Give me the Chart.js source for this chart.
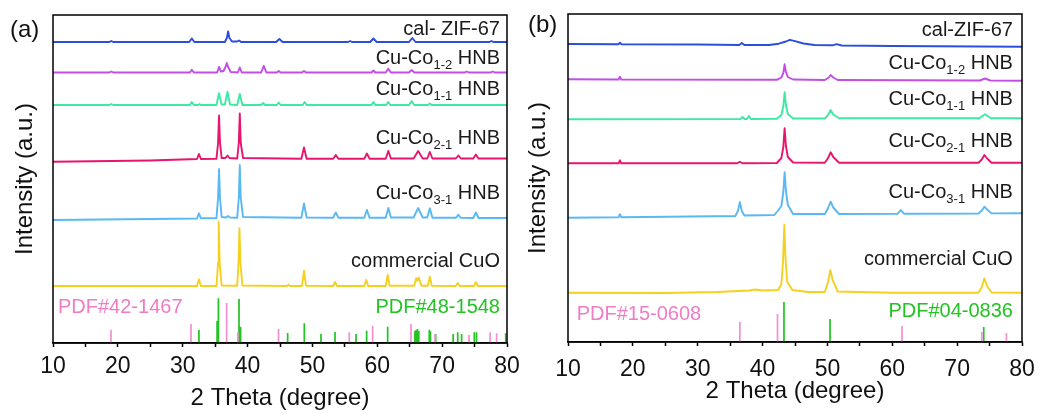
<!DOCTYPE html>
<html>
<head>
<meta charset="utf-8">
<script src="https://cdn.jsdelivr.net/npm/chart.js@4.4.1/dist/chart.umd.min.js"></script>
<style>
  html, body { margin: 0; padding: 0; background: #fff; }
  #wrap { position: relative; width: 1040px; height: 414px; }
  #chartA { position: absolute; left: 0; top: 0; }
  #chartB { position: absolute; left: 520px; top: 0; }
</style>
</head>
<body>
<div id="wrap">
  <canvas id="chartA" width="520" height="414"></canvas>
  <canvas id="chartB" width="520" height="414"></canvas>
</div>
<script>
// ---- panel (a): XRD traces, [2theta, offset intensity] ----
var zifA = [[10,301],[18.7,301],[19,302],[19.3,301],[31.0,301],[31.4,304.5],[31.8,301],[36.5,301],[36.8,305],[37.0,311.5],[37.2,305],[37.6,301.5],[38.4,301.5],[38.7,302.5],[39,301],[44.4,301],[44.9,304],[45.4,301],[55.5,301],[55.8,302],[56.1,301],[58.9,301],[59.4,304.5],[59.9,301],[64.9,301],[65.4,305],[65.9,301],[77.3,301],[77.6,302],[77.9,301],[80,301]];
var co12A = [[10,270.5],[18.7,270.5],[19,271.5],[19.3,270.5],[31.1,270.5],[31.4,273.2],[31.7,270.5],[35.3,270.5],[35.6,276],[35.9,271.5],[36.3,272],[36.6,276],[36.8,280],[37.0,276],[37.4,271],[38.5,270.5],[38.8,275.5],[39.1,270.5],[42.1,270.5],[42.5,277.2],[42.9,270.5],[44.5,270.5],[44.8,272],[45.1,270.5],[48.4,270.5],[48.7,272],[49,270.5],[59.1,270.5],[59.4,272.5],[59.7,270.5],[61.3,270.5],[61.7,274.2],[62.1,270.5],[64.9,270.5],[65.3,273],[65.7,270.5],[73.5,270.5],[73.8,271.5],[74.1,270.5],[77.5,270.5],[77.8,271.5],[78.1,270.5],[80,270.5]];
var co11A = [[10,238],[18.7,238],[19,239],[19.3,238],[31.1,238],[31.4,241],[31.7,238],[32.4,238],[32.6,239],[32.8,238],[35.2,238],[35.6,249.7],[36.0,238.5],[36.5,238.5],[36.9,251.3],[37.3,238.5],[38.4,238],[38.8,249],[39.2,238],[42.1,238],[42.4,240],[42.7,238],[44.5,238],[44.8,240.5],[45.1,238],[48.5,238],[48.8,241],[49.1,238],[59.1,238],[59.4,241],[59.7,238],[61.4,238],[61.7,241],[62.0,238],[64.9,238],[65.3,242],[65.7,238],[67.8,238],[68.1,239.5],[68.4,238],[80,238]];
var co21A = [[10,181.3],[25,182.5],[32.2,184],[32.5,189],[32.8,184],[35.2,184.2],[35.45,200],[35.6,227.5],[35.75,200],[36.0,185],[36.6,185],[36.9,187.5],[37.2,185],[38.4,184.5],[38.65,200],[38.8,229.5],[38.95,200],[39.3,185],[48.3,184.3],[48.7,195.5],[49.1,184.3],[53.2,184.3],[53.6,188],[54.0,184.3],[58.0,184.3],[58.4,189.5],[58.8,184.3],[61.3,184.3],[61.7,192],[62.1,184.5],[65.6,184.5],[66.3,192],[67.0,184.5],[67.7,184.5],[68.1,191],[68.5,184.5],[72.1,184.5],[72.5,187.5],[72.9,184.5],[74.8,184.5],[75.2,188.5],[75.6,184.5],[80,184.5]];
var co31A = [[10,123],[25,124],[32.2,124.5],[32.5,129.7],[32.8,124.7],[35.2,125],[35.45,145],[35.6,174],[35.75,145],[36.0,126],[36.7,125.5],[37.0,127],[37.3,125.5],[38.4,125.3],[38.65,145],[38.8,178],[38.95,145],[39.3,126],[48.3,125.3],[48.7,139.5],[49.1,125.5],[53.2,125.3],[53.6,130.5],[54.0,125.3],[58.0,125.3],[58.4,133],[58.8,125.3],[61.3,125.3],[61.7,135],[62.1,125.5],[65.6,125.5],[66.3,135],[67.0,125.5],[67.7,125.5],[68.1,134.7],[68.5,125.3],[72.1,125.2],[72.5,128.2],[72.9,125.2],[74.8,125],[75.2,130.5],[75.6,125],[80,125]];
var cuoA = [[10,57],[32.2,57],[32.5,63.7],[32.8,57],[35.2,57],[35.45,80],[35.55,121.3],[35.7,80],[36.0,57.5],[38.4,57.3],[38.6,80],[38.75,114.7],[38.9,80],[39.2,57.5],[46.1,57],[46.3,58.5],[46.5,57],[48.4,57],[48.7,72.3],[49.0,57.3],[53.2,57],[53.5,61],[53.8,57],[58.0,57],[58.3,63],[58.6,57],[61.3,57],[61.6,68],[61.9,57.3],[65.7,57.3],[66.0,64.7],[66.2,62.5],[66.4,65.5],[66.8,57.3],[67.8,57.3],[68.1,66.3],[68.4,57.3],[72.1,57],[72.4,60],[72.7,57],[74.9,57],[75.2,61],[75.5,57],[80,57]];

// reference patterns (a)
var pdf421467Pos = [18.94, 31.28, 36.77, 38.5, 44.77, 55.68, 59.29, 65.2, 68.9, 74.14, 77.4, 78.4];
var pdf421467Hgt = [13.3, 19, 40, 10.7, 14, 10.7, 17.3, 19, 9, 8, 10.7, 9.7];
var pdf481548Pos = [32.5, 35.3, 35.5, 38.68, 38.93, 46.18, 48.75, 51.32, 53.48, 56.72, 58.36, 61.6, 65.8, 66.0, 66.2, 66.4, 68.02, 68.2, 69.0, 71.7, 72.4, 73.0, 74.96, 75.3, 79.8];
var pdf481548Hgt = [13.3, 22, 44.7, 44, 16, 10, 19.7, 9, 11, 9, 12.3, 16.3, 12, 13, 14, 12, 13.3, 11.7, 9, 9, 10.7, 9, 10.7, 10.7, 9.7];

// ---- panel (b) ----
var zifB = [[10,298],[17.8,297.8],[18.0,299.3],[18.2,297.8],[30,297.5],[36.4,297],[36.8,299],[37.2,297],[41.0,297],[42.5,298.3],[43.6,300.5],[44.2,302.2],[45,300.8],[46.3,298.5],[48,297],[50.8,296.7],[51.4,297.8],[52.2,296.5],[60,296],[80,295.3]];
var co12B = [[10,262.7],[17.8,262.5],[18.0,265.3],[18.2,262.5],[42.2,262.2],[42.9,264.5],[43.2,269],[43.4,277.7],[43.6,270],[43.9,265],[44.7,262.5],[49.6,262],[50.2,264.5],[50.5,267],[50.9,264.5],[51.6,262],[73.5,261.5],[74.3,263.5],[75.1,261.5],[80,261.3]];
var co11B = [[10,222.7],[36.6,223],[36.9,225],[37.2,223],[37.6,223],[37.9,226],[38.2,223],[42.2,223.2],[42.9,227],[43.2,236],[43.4,249.7],[43.6,237],[43.9,228],[44.7,223.5],[49.6,223.5],[50.1,227],[50.5,232],[50.9,227.5],[51.8,223.7],[73.4,223.7],[74.3,227.7],[75.2,223.7],[80,223.7]];
var co21B = [[10,178.7],[17.8,178.7],[18.0,181.7],[18.2,178.7],[36.1,178.8],[36.5,180.3],[36.9,178.8],[42.2,179],[42.9,184],[43.2,195],[43.4,213.7],[43.6,196],[43.9,185],[44.7,179.5],[49.6,179.3],[50.1,184],[50.5,189.7],[50.9,185],[51.8,179.3],[73.3,179.3],[73.8,182.5],[74.2,187],[74.7,183],[75.3,179.3],[80,179.3]];
var co31B = [[10,124.3],[17.8,124.8],[18.0,127.8],[18.2,124.8],[35.8,126],[36.2,131],[36.5,139.7],[36.8,131],[37.2,126.5],[41.8,127],[42.4,131.5],[42.9,136],[43.2,150],[43.4,169.7],[43.6,151],[43.9,137],[44.7,128],[49.6,128],[50.1,134],[50.5,140.3],[50.9,134.5],[51.8,128],[60.8,128.2],[61.3,132],[61.8,128.3],[73.3,128.5],[73.8,131.5],[74.2,135.3],[74.7,132],[75.3,128.6],[80,128.7]];
var cuoB = [[10,49.3],[25,49],[33,50],[38,51.5],[38.8,52.5],[40,51.5],[42.4,52],[42.9,58],[43.15,80],[43.35,117],[43.55,82],[43.8,60],[44.6,52],[47,50],[49.6,50],[50.1,60],[50.45,72],[50.8,62],[51.6,50.5],[60,49.3],[73.3,49.3],[73.8,55],[74.2,63.7],[74.6,56],[75.3,49.5],[80,49.3]];

var pdf150608Pos = [36.5, 42.3, 61.5, 73.8, 77.6];
var pdf150608Hgt = [20, 28, 16, 10, 9];
var pdf040836Pos = [43.3, 50.4, 74.1];
var pdf040836Hgt = [40, 23, 15];

var xTicks = [10, 20, 30, 40, 50, 60, 70, 80];

var FONT = '"Liberation Sans", Arial, sans-serif';
Chart.defaults.font.family = FONT;
Chart.defaults.color = '#111';

function pts(arr) {
  return arr.map(function(p){ return {x: p[0], y: p[1]}; });
}

function sticks(pos, hgt) {
  var out = [];
  for (var i = 0; i < pos.length; i++) {
    out.push({x: pos[i], y: 0}, {x: pos[i], y: hgt[i]}, {x: pos[i], y: null});
  }
  return out;
}

function trace(data, color) {
  return { data: pts(data), borderColor: color, borderWidth: 1.9, pointRadius: 0, tension: 0, borderJoinStyle: 'round' };
}

function stickSet(data, color) {
  return { data: data, borderColor: color, borderWidth: 1.7, pointRadius: 0, spanGaps: false };
}

// frame, panel tag and curve labels
var decor = {
  id: 'decor',
  afterDatasetsDraw: function(chart, args, opts) {
    var ctx = chart.ctx, a = chart.chartArea;
    var xs = chart.scales.x, ys = chart.scales.y;
    ctx.save();
    ctx.lineWidth = 1.5;
    ctx.strokeStyle = '#000';
    ctx.strokeRect(a.left, a.top, a.right - a.left, a.bottom - a.top);
    ctx.fillStyle = '#111';
    ctx.textBaseline = 'alphabetic';
    ctx.textAlign = 'left';
    ctx.font = '24px ' + FONT;
    ctx.fillText(opts.tag, opts.tagX, opts.tagY);
    opts.labels.forEach(function(l){
      var parts = l.text.split('|');
      var big = '20px ' + FONT, small = '13px ' + FONT;
      ctx.font = big;
      var w0 = ctx.measureText(parts[0]).width;
      var w2 = parts.length > 2 ? ctx.measureText(parts[2]).width : 0;
      ctx.font = small;
      var w1 = parts.length > 1 ? ctx.measureText(parts[1]).width : 0;
      var px = xs.getPixelForValue(l.x), py = ys.getPixelForValue(l.y);
      var x0 = l.align === 'right' ? px - (w0 + w1 + w2) : px;
      ctx.fillStyle = l.color || '#1a1a1a';
      ctx.font = big;
      ctx.fillText(parts[0], x0, py);
      if (parts.length > 1) {
        ctx.font = small;
        ctx.fillText(parts[1], x0 + w0, py + 4.5);
        ctx.font = big;
        ctx.fillText(parts[2], x0 + w0 + w1, py);
      }
    });
    ctx.restore();
  }
};

function makeChart(id, datasets, lay, decorOpts) {
  var ctx = document.getElementById(id).getContext('2d');
  return new Chart(ctx, {
    type: 'line',
    data: { datasets: datasets },
    options: {
      responsive: false,
      animation: false,
      layout: { padding: { left: 0, top: lay.top, right: lay.right, bottom: 0 } },
      plugins: { legend: { display: false }, tooltip: { enabled: false }, decor: decorOpts },
      scales: {
        x: {
          type: 'linear', min: 10, max: 80,
          afterBuildTicks: function(scale){
            var t = [];
            for (var v = 10; v <= 80; v += 5) t.push({value: v});
            scale.ticks = t;
          },
          afterFit: function(scale){
            scale.height = lay.xHeight;
            scale.paddingLeft = 0;
            scale.paddingRight = 0;
          },
          ticks: {
            autoSkip: false, maxRotation: 0, padding: lay.tickPad, color: '#111',
            font: { size: 23 },
            callback: function(v){ return xTicks.indexOf(v) >= 0 ? String(v) : ''; }
          },
          grid: { drawOnChartArea: false, drawTicks: true, tickLength: 4, tickWidth: 1.5, tickColor: '#000' },
          border: { display: true, color: '#000', width: 1.5 },
          title: { display: true, text: '2 Theta (degree)', color: '#111', font: { size: 24 }, padding: { top: 0, bottom: lay.titlePad } }
        },
        y: {
          min: 0, max: 328,
          afterFit: function(scale){ scale.width = lay.left; },
          ticks: { display: false },
          grid: { display: false },
          border: { display: false },
          title: { display: true, text: 'Intensity (a.u.)', color: '#111', font: { size: 24 }, padding: { top: lay.yTitlePad, bottom: 0 } }
        }
      }
    },
    plugins: [decor]
  });
}

makeChart('chartA', [
  trace(zifA, '#2b4de0'),
  trace(co12A, '#c24ee6'),
  trace(co11A, '#3eeaa2'),
  trace(co21A, '#e8156e'),
  trace(co31A, '#5ab8f2'),
  trace(cuoA, '#f6d01f'),
  stickSet(sticks(pdf421467Pos, pdf421467Hgt), '#f290d2'),
  stickSet(sticks(pdf481548Pos, pdf481548Hgt), '#22c322')
], { left: 53, top: 15, right: 13, xHeight: 71, tickPad: 6, titlePad: 1, yTitlePad: 10.6 }, {
  tag: '(a)', tagX: 10, tagY: 36.5,
  labels: [
    { text: 'cal- ZIF-67', x: 78.92, y: 308, align: 'right' },
    { text: 'Cu-Co|1-2| HNB', x: 78.92, y: 279, align: 'right' },
    { text: 'Cu-Co|1-1| HNB', x: 78.92, y: 248, align: 'right' },
    { text: 'Cu-Co|2-1| HNB', x: 78.92, y: 199, align: 'right' },
    { text: 'Cu-Co|3-1| HNB', x: 78.92, y: 143.7, align: 'right' },
    { text: 'commercial CuO', x: 78.92, y: 75.7, align: 'right' },
    { text: 'PDF#42-1467', x: 10.77, y: 29.7, align: 'left', color: '#f07cc4' },
    { text: 'PDF#48-1548', x: 78.92, y: 29.7, align: 'right', color: '#22c322' }
  ]
});

makeChart('chartB', [
  trace(zifB, '#2b4de0'),
  trace(co12B, '#c24ee6'),
  trace(co11B, '#3eeaa2'),
  trace(co21B, '#e8156e'),
  trace(co31B, '#5ab8f2'),
  trace(cuoB, '#f6d01f'),
  stickSet(sticks(pdf150608Pos, pdf150608Hgt), '#f290d2'),
  stickSet(sticks(pdf040836Pos, pdf040836Hgt), '#22c322')
], { left: 48, top: 14, right: 18, xHeight: 72, tickPad: 10, titlePad: 8, yTitlePad: 4 }, {
  tag: '(b)', tagX: 8, tagY: 31.6,
  labels: [
    { text: 'cal-ZIF-67', x: 78.6, y: 306.3, align: 'right' },
    { text: 'Cu-Co|1-2| HNB', x: 78.6, y: 272.7, align: 'right' },
    { text: 'Cu-Co|1-1| HNB', x: 78.6, y: 237, align: 'right' },
    { text: 'Cu-Co|2-1| HNB', x: 78.6, y: 194.7, align: 'right' },
    { text: 'Cu-Co|3-1| HNB', x: 78.6, y: 143.7, align: 'right' },
    { text: 'commercial CuO', x: 78.6, y: 77, align: 'right' },
    { text: 'PDF#15-0608', x: 11.34, y: 22, align: 'left', color: '#f07cc4' },
    { text: 'PDF#04-0836', x: 78.6, y: 24.7, align: 'right', color: '#22c322' }
  ]
});
</script>
</body>
</html>
